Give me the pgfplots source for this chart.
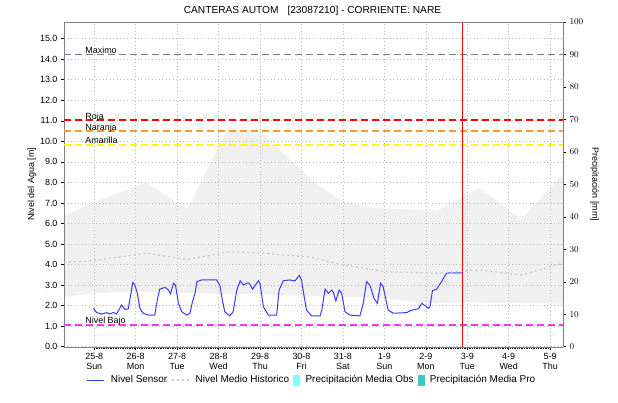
\documentclass[border=0pt]{standalone}
\usepackage{fontspec}
\setmainfont{Liberation Sans}
\usepackage{pgfplots}
\pgfplotsset{compat=1.18}
\definecolor{maxc}{HTML}{6E7A9A}
\definecolor{rojac}{HTML}{FF0000}
\definecolor{naranjac}{HTML}{FF9933}
\definecolor{amarc}{HTML}{FFFF00}
\definecolor{bajoc}{HTML}{FF33FF}
\definecolor{sensc}{HTML}{3A3AFF}
\definecolor{bandc}{HTML}{F0F0F0}
\definecolor{medc}{HTML}{C8C8C8}
\definecolor{obsc}{HTML}{7FFFFF}
\definecolor{proc}{HTML}{40C8C8}
\definecolor{framec}{HTML}{808080}
\definecolor{gridc}{HTML}{BBBBBB}
\begin{document}
\begin{tikzpicture}
\useasboundingbox (0,0) rectangle (618bp,403bp);
\node[font=\fontsize{10.2}{12}\selectfont] at (312.5bp,392.5bp) {CANTERAS AUTOM\hspace{9bp}[23087210] - CORRIENTE: NARE};
% background band axis
\begin{axis}[
  at={(64bp,56.3bp)}, anchor=south west,
  scale only axis, width=499bp, height=324.7bp,
  xmin=-0.73, xmax=11.31, ymin=0, ymax=15.81,
  hide axis,
]
\addplot[fill=bandc, draw=none] coordinates {
(-0.73,6.35) (0.0,7.05) (1.25,8.0) (2.25,6.7) (3.25,10.7) (4.1,10.3) (5.25,8.1) (6.0,7.05) (6.75,6.75) (8.3,6.65) (9.3,7.75) (10.3,6.2) (11.31,8.4)
(11.31,2.1) (10.0,2.12) (9.0,2.16) (8.0,2.12) (7.0,2.36) (6.0,2.44) (5.0,2.47) (4.0,2.55) (3.0,2.58) (2.0,2.62) (1.0,2.7) (0.0,2.6) (-0.73,2.42)
} -- cycle;
\end{axis}
\begin{axis}[
  at={(64bp,56.3bp)}, anchor=south west,
  scale only axis, width=499bp, height=324.7bp,
  xmin=-0.73, xmax=11.31, ymin=0, ymax=15.81,
  axis y line*=left, axis x line*=bottom,
  axis line style={framec},
  xtick={0,...,11},
  xticklabels={{25-8\\Sun},{26-8\\Mon},{27-8\\Tue},{28-8\\Wed},{29-8\\Thu},{30-8\\Fri},{31-8\\Sat},{1-9\\Sun},{2-9\\Mon},{3-9\\Tue},{4-9\\Wed},{5-9\\Thu}},
  xticklabel style={align=center, font=\fontsize{9}{10.5}\selectfont},
  minor x tick num=23,
  ytick={0,...,15},
  yticklabel style={font=\fontsize{9}{10}\selectfont},
  /pgf/number format/.cd, fixed, fixed zerofill, precision=1, assume math mode=true,
  /pgfplots/.cd,
  tick align=outside, major tick length=3bp, minor tick length=2bp,
  tick style={black, line width=0.5pt},
  grid=major, major grid style={gridc, line width=0.6pt, dash pattern=on 1bp off 2.5bp},
  ylabel={Nivel del Agua [m]},
  ylabel style={at={(axis description cs:-0.0647,0.5)}, anchor=center, font=\fontsize{9}{10}\selectfont},
  clip=true,
  legend columns=4,
  legend style={at={(0.497,-0.1026)}, anchor=center, draw=none, fill=none,
    font=\fontsize{10}{12}\selectfont, column sep=4bp,
    /tikz/every even column/.append style={column sep=2bp}},
]
% thresholds
\addplot[maxc, line width=1.7pt, dash pattern=on 7bp off 4bp, forget plot] coordinates {(-0.73,14.22) (11.31,14.22)};
\addplot[rojac, line width=1.7pt, dash pattern=on 7bp off 4bp, forget plot] coordinates {(-0.73,11.04) (11.31,11.04)};
\addplot[naranjac, line width=1.7pt, dash pattern=on 7bp off 4bp, forget plot] coordinates {(-0.73,10.5) (11.31,10.5)};
\addplot[amarc, line width=1.7pt, dash pattern=on 7bp off 4bp, forget plot] coordinates {(-0.73,9.82) (11.31,9.82)};
\addplot[bajoc, line width=1.7pt, dash pattern=on 7bp off 4bp, forget plot] coordinates {(-0.73,1.06) (11.31,1.06)};
% current time line
\addplot[red, line width=0.6pt, forget plot] coordinates {(8.89,0) (8.89,15.81)};
% sensor
\addplot[sensc, line width=1pt] coordinates {
(-0.02,1.87) (0.06,1.66) (0.18,1.59) (0.30,1.66) (0.38,1.59) (0.46,1.67) (0.54,1.59) (0.66,2.03) (0.74,1.82) (0.82,1.84)
(0.88,2.52) (0.93,3.12) (0.98,3.0) (1.04,2.6) (1.10,1.87) (1.18,1.63) (1.30,1.54) (1.46,1.54) (1.52,2.27) (1.58,2.8)
(1.71,2.89) (1.79,2.76) (1.84,2.57) (1.91,3.09) (1.96,3.0) (2.03,2.11) (2.11,1.70) (2.23,1.54) (2.31,1.63) (2.37,2.19)
(2.43,2.6) (2.48,3.17) (2.59,3.25) (2.71,3.25) (2.95,3.25) (3.03,3.0) (3.09,2.27) (3.15,1.70) (3.27,1.50) (3.35,1.70)
(3.44,2.76) (3.52,3.21) (3.60,3.0) (3.68,3.09) (3.74,3.09) (3.82,2.8) (3.96,3.21) (4.0,3.09) (4.08,1.95) (4.2,1.54)
(4.4,1.54) (4.46,2.76) (4.56,3.21) (4.72,3.25) (4.84,3.21) (4.95,3.46) (5.0,3.25) (5.06,2.5) (5.12,1.79) (5.24,1.50)
(5.45,1.50) (5.49,1.79) (5.57,2.8) (5.65,2.6) (5.73,2.76) (5.77,2.63) (5.83,2.23) (5.91,2.76) (5.97,2.6) (6.05,1.70)
(6.17,1.54) (6.41,1.50) (6.49,2.11) (6.57,3.17) (6.65,3.0) (6.75,2.36) (6.83,2.11) (6.91,3.09) (6.97,2.92) (7.04,2.27)
(7.09,1.79) (7.21,1.63) (7.54,1.66) (7.62,1.75) (7.74,1.82) (7.82,1.84) (7.90,2.11) (7.98,2.0) (8.06,1.87) (8.10,1.95)
(8.16,2.73) (8.26,2.8) (8.38,3.17) (8.50,3.58) (8.62,3.6) (8.89,3.6)
};
\addlegendentry{Nivel Sensor}
% historic median
\addplot[medc, line width=1.3pt, dash pattern=on 2bp off 3bp] coordinates {
(-0.73,4.1) (0.0,4.2) (1.25,4.55) (2.25,4.25) (3.3,4.63) (4.1,4.55) (5.25,4.35) (6.0,3.98) (7.0,3.65) (8.3,3.58) (9.3,3.74) (10.3,3.49) (11.31,4.06)
};
\addlegendentry{Nivel Medio Historico}
\addlegendimage{legend image code/.code={\fill[obsc] (0bp,-5bp) rectangle (6bp,5bp);}}
\addlegendentry{Precipitación Media Obs}
\addlegendimage{legend image code/.code={\fill[proc] (0bp,-5bp) rectangle (6bp,5bp);}}
\addlegendentry{Precipitación Media Pro}
% threshold labels
\node[anchor=base west, font=\fontsize{9}{10}\selectfont, inner sep=0pt] at (axis cs:-0.22,14.3) {Maximo};
\node[anchor=base west, font=\fontsize{9}{10}\selectfont, inner sep=0pt] at (axis cs:-0.22,11.08) {Roja};
\node[anchor=base west, font=\fontsize{9}{10}\selectfont, inner sep=0pt] at (axis cs:-0.22,10.55) {Naranja};
\node[anchor=base west, font=\fontsize{9}{10}\selectfont, inner sep=0pt] at (axis cs:-0.22,9.88) {Amarilla};
\node[anchor=base west, font=\fontsize{9}{10}\selectfont, inner sep=0pt] at (axis cs:-0.22,1.12) {Nivel Bajo};
\end{axis}
\begin{axis}[
  at={(64bp,56.3bp)}, anchor=south west,
  scale only axis, width=499bp, height=324.7bp,
  xmin=-0.73, xmax=11.31, ymin=0, ymax=100,
  axis y line*=right, axis x line=none,
  axis line style={framec},
  ytick={0,10,...,100},
  yticklabel style={font=\fontsize{9}{10}\selectfont},
  tick align=outside, major tick length=3bp,
  tick style={black, line width=0.5pt},
  ylabel={Precipitación [mm]},
  ylabel style={at={(axis description cs:1.0637,0.5)}, anchor=center, rotate=180, font=\fontsize{9}{10}\selectfont},
]
\end{axis}
\draw[framec, line width=0.5pt] (64bp,380.7bp) -- (563bp,380.7bp);
\end{tikzpicture}
\end{document}
